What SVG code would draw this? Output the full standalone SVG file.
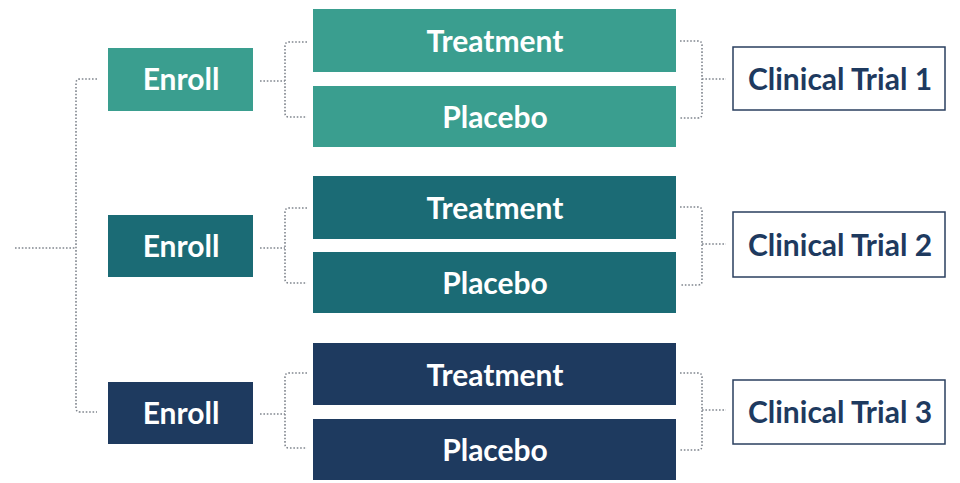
<svg xmlns="http://www.w3.org/2000/svg" width="960" height="483" viewBox="0 0 960 483">
<style>
.bg{fill:#ffffff}
.g1{fill:#3a9e8f}
.g2{fill:#1b6b75}
.g3{fill:#1e3a5f}
.wt{font-family:Lato,"Open Sans","Liberation Sans",sans-serif;font-weight:700;font-size:30px;fill:#ffffff;text-anchor:middle}
.ct{font-family:Lato,"Open Sans","Liberation Sans",sans-serif;font-weight:700;font-size:30px;fill:#1e3a5f;text-anchor:middle}
.trial{fill:#ffffff;stroke:#2a3f5f;stroke-width:1.5}
.conn path{fill:none;stroke:#80868e;stroke-width:1.6;stroke-dasharray:1.6 1.8}
</style>
<rect class="bg" x="0" y="0" width="960" height="483"/>
<g class="conn" id="connectors">
<path d="M15 248 H76"/>
<path d="M97 79 H80 Q76 79 76 83 V408 Q76 412 80 412 H97"/>
<path d="M260 81 H285"/>
<path d="M307 42 H289 Q285 42 285 46 V113 Q285 117 289 117 H307"/>
<path d="M680 41 H698 Q702 41 702 45 V114 Q702 118 698 118 H680"/>
<path d="M702 79 H726"/>
<path d="M260 248 H285"/>
<path d="M307 208 H289 Q285 208 285 212 V279 Q285 283 289 283 H307"/>
<path d="M680 207 H698 Q702 207 702 211 V281 Q702 285 698 285 H680"/>
<path d="M702 244 H726"/>
<path d="M260 414 H285"/>
<path d="M307 373 H289 Q285 373 285 377 V444 Q285 448 289 448 H307"/>
<path d="M680 373 H698 Q702 373 702 377 V446 Q702 450 698 450 H680"/>
<path d="M702 410 H726"/>
</g>
<g id="enroll1"><rect class="g1" x="108" y="48" width="145" height="63"/><text class="wt" x="181" y="90">Enroll</text></g>
<g id="treatment1"><rect class="g1" x="313" y="9" width="363" height="63"/><text class="wt" x="495" y="52">Treatment</text></g>
<g id="placebo1"><rect class="g1" x="313" y="86" width="363" height="61"/><text class="wt" x="495" y="128">Placebo</text></g>
<g id="trial1"><rect class="trial" x="733" y="47" width="212" height="63"/><text class="ct" x="840" y="90">Clinical Trial 1</text></g>
<g id="enroll2"><rect class="g2" x="108" y="215" width="145" height="62"/><text class="wt" x="181" y="257">Enroll</text></g>
<g id="treatment2"><rect class="g2" x="313" y="176" width="363" height="63"/><text class="wt" x="495" y="219">Treatment</text></g>
<g id="placebo2"><rect class="g2" x="313" y="252" width="363" height="61"/><text class="wt" x="495" y="294">Placebo</text></g>
<g id="trial2"><rect class="trial" x="733" y="212" width="212" height="65"/><text class="ct" x="840" y="256">Clinical Trial 2</text></g>
<g id="enroll3"><rect class="g3" x="108" y="382" width="145" height="62"/><text class="wt" x="181" y="424">Enroll</text></g>
<g id="treatment3"><rect class="g3" x="313" y="343" width="363" height="62"/><text class="wt" x="495" y="386">Treatment</text></g>
<g id="placebo3"><rect class="g3" x="313" y="419" width="363" height="61"/><text class="wt" x="495" y="461">Placebo</text></g>
<g id="trial3"><rect class="trial" x="733" y="380" width="212" height="64"/><text class="ct" x="840" y="423">Clinical Trial 3</text></g>
</svg>
